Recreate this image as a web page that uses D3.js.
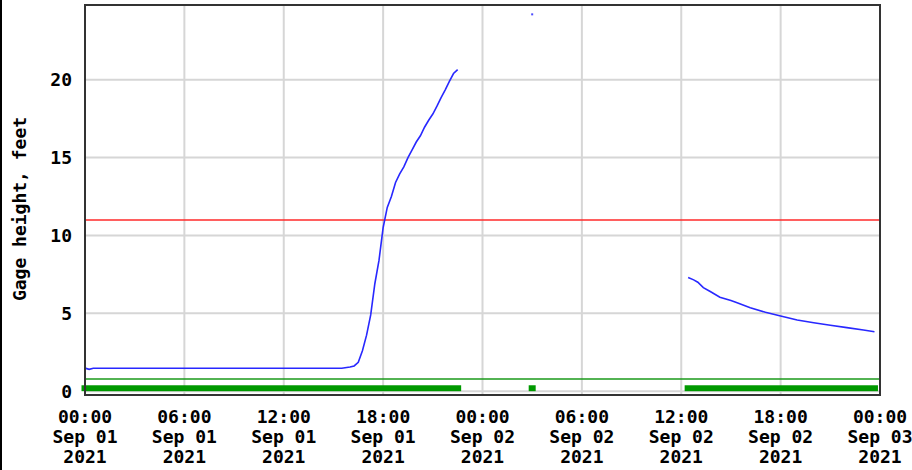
<!DOCTYPE html>
<html>
<head>
<meta charset="utf-8">
<script src="https://cdn.jsdelivr.net/npm/d3@7"></script>
<style>
  html, body { margin: 0; padding: 0; background: #fff; }
  svg { display: block; }
  text { font-family: "DejaVu Sans Mono", "Liberation Mono", monospace; font-weight: bold; fill: #000; }
</style>
</head>
<body>
<script>
// ---- Data (times in local clock, values in feet) ----
const seriesA_times = ["2021-09-01T00:00","2021-09-01T00:15","2021-09-01T00:30","2021-09-01T15:30","2021-09-01T16:00","2021-09-01T16:15","2021-09-01T16:30","2021-09-01T16:45","2021-09-01T17:00","2021-09-01T17:15","2021-09-01T17:30","2021-09-01T17:45","2021-09-01T18:00","2021-09-01T18:15","2021-09-01T18:30","2021-09-01T18:45","2021-09-01T19:00","2021-09-01T19:15","2021-09-01T19:30","2021-09-01T19:45","2021-09-01T20:00","2021-09-01T20:15","2021-09-01T20:30","2021-09-01T20:45","2021-09-01T21:00","2021-09-01T21:15","2021-09-01T21:30","2021-09-01T21:45","2021-09-01T22:00","2021-09-01T22:15","2021-09-01T22:30"];
const seriesA_values = [1.48,1.40,1.47,1.47,1.55,1.62,1.85,2.6,3.6,4.9,6.9,8.4,10.5,11.8,12.5,13.4,13.95,14.4,15.0,15.5,16.0,16.4,16.95,17.4,17.8,18.3,18.85,19.35,19.9,20.4,20.65];

const isolated_times = ["2021-09-02T03:00"];
const isolated_values = [24.2];

const seriesB_times = ["2021-09-02T12:25","2021-09-02T12:45","2021-09-02T13:00","2021-09-02T13:20","2021-09-02T13:45","2021-09-02T14:20","2021-09-02T15:00","2021-09-02T15:20","2021-09-02T16:10","2021-09-02T17:05","2021-09-02T18:00","2021-09-02T19:00","2021-09-02T20:00","2021-09-02T21:00","2021-09-02T22:00","2021-09-02T23:00","2021-09-02T23:40"];
const seriesB_values = [7.3,7.15,7.0,6.65,6.4,6.03,5.82,5.69,5.36,5.07,4.83,4.57,4.40,4.23,4.08,3.93,3.82];

// data-availability bars (start, end)
const avail_starts = ["2021-09-01T00:00","2021-09-02T03:00","2021-09-02T12:25"];
const avail_ends   = ["2021-09-01T22:30","2021-09-02T03:00","2021-09-02T23:40"];

const redLineValue = 11;      // flood stage
const greenLineValue = 0.78;  // reference level

const yTicks = [0, 5, 10, 15, 20];
const xTickTimes = ["2021-09-01T00:00","2021-09-01T06:00","2021-09-01T12:00","2021-09-01T18:00","2021-09-02T00:00","2021-09-02T06:00","2021-09-02T12:00","2021-09-02T18:00","2021-09-03T00:00"];
const xTickLine1 = ["00:00","06:00","12:00","18:00","00:00","06:00","12:00","18:00","00:00"];
const xTickLine2 = ["Sep 01","Sep 01","Sep 01","Sep 01","Sep 02","Sep 02","Sep 02","Sep 02","Sep 03"];
const xTickLine3 = ["2021","2021","2021","2021","2021","2021","2021","2021","2021"];
const yTitle = "Gage height, feet";

// ---- Drawing ----
const W = 912, H = 470;
const L = 85, R = 880, T = 5, B = 395;
const parse = d3.timeParse("%Y-%m-%dT%H:%M");

const x = d3.scaleTime()
  .domain([parse("2021-09-01T00:00"), parse("2021-09-03T00:00")])
  .range([L, R]);
const y = d3.scaleLinear().domain([-0.245, 24.8]).range([B, T]);

const svg = d3.select("body").append("svg").attr("width", W).attr("height", H);

// left edge black strip
svg.append("rect").attr("x", 0).attr("y", 0).attr("width", 2).attr("height", H).attr("fill", "#000");

const g = svg.append("g");

// gridlines
g.selectAll(".vg").data(xTickTimes).enter().append("line")
  .attr("x1", d => x(parse(d))).attr("x2", d => x(parse(d)))
  .attr("y1", T).attr("y2", B)
  .attr("stroke", "#d6d6d6").attr("stroke-width", 2);
g.selectAll(".hg").data(yTicks).enter().append("line")
  .attr("x1", L).attr("x2", R)
  .attr("y1", d => y(d)).attr("y2", d => y(d))
  .attr("stroke", "#d6d6d6").attr("stroke-width", 2);

// red flood line
g.append("line").attr("x1", L).attr("x2", R)
  .attr("y1", y(redLineValue)).attr("y2", y(redLineValue))
  .attr("stroke", "#ff2a2a").attr("stroke-width", 1.5);

// green reference line
g.append("line").attr("x1", L).attr("x2", R)
  .attr("y1", y(greenLineValue)).attr("y2", y(greenLineValue))
  .attr("stroke", "#1a9a1a").attr("stroke-width", 1.5);

// availability bars
const pad = 3.5;
g.selectAll(".av").data(avail_starts.map((s, i) => [parse(s), parse(avail_ends[i])])).enter().append("rect")
  .attr("x", d => x(d[0]) - pad)
  .attr("width", d => x(d[1]) - x(d[0]) + 2 * pad)
  .attr("y", y(0.38))
  .attr("height", y(0) - y(0.38))
  .attr("fill", "#009900");

// lines
const line = d3.line().x(d => x(d[0])).y(d => y(d[1]));
const segA = seriesA_times.map((t, i) => [parse(t), seriesA_values[i]]);
const segB = seriesB_times.map((t, i) => [parse(t), seriesB_values[i]]);
[segA, segB].forEach(seg => {
  g.append("path").datum(seg).attr("d", line)
    .attr("fill", "none").attr("stroke", "#2828ff").attr("stroke-width", 1.6);
});
g.selectAll(".iso").data(isolated_times.map((t, i) => [parse(t), isolated_values[i]])).enter().append("rect")
  .attr("x", d => x(d[0]) - 1).attr("y", d => y(d[1]) - 1)
  .attr("width", 2).attr("height", 2).attr("fill", "#4a4aff");

// border
g.append("rect").attr("x", L).attr("y", T).attr("width", R - L).attr("height", B - T)
  .attr("fill", "none").attr("stroke", "#333").attr("stroke-width", 2);

// y tick labels
svg.selectAll(".yl").data(yTicks).enter().append("text")
  .attr("x", 72).attr("y", d => y(d)).attr("dy", "0.36em")
  .attr("text-anchor", "end").attr("font-size", 18).text(d => d);

// x tick labels
const xl = svg.selectAll(".xl").data(xTickTimes).enter().append("text")
  .attr("text-anchor", "middle").attr("font-size", 18);
xl.append("tspan").attr("x", d => x(parse(d))).attr("y", 423).text((d, i) => xTickLine1[i]);
xl.append("tspan").attr("x", d => x(parse(d))).attr("y", 443).text((d, i) => xTickLine2[i]);
xl.append("tspan").attr("x", d => x(parse(d))).attr("y", 463).text((d, i) => xTickLine3[i]);

// y title
svg.append("text").attr("transform", "translate(26,209) rotate(-90)")
  .attr("text-anchor", "middle").attr("font-size", 18).text(yTitle);
</script>
</body>
</html>
